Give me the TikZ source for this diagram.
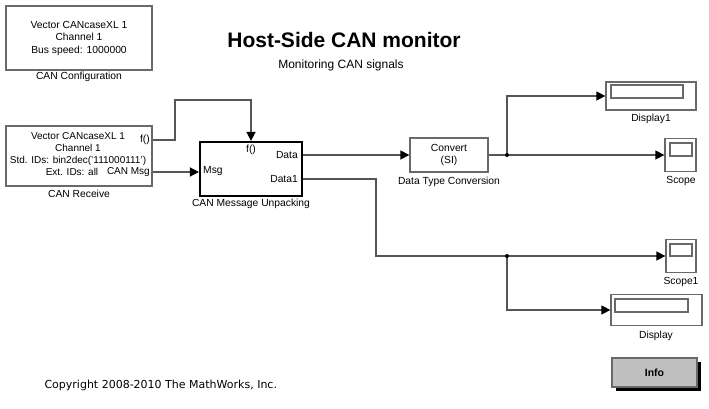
\documentclass[tikz,border=0pt]{standalone}
\usepackage{fontspec}
\setmainfont{Liberation Sans}
\newfontfamily\copyfont{DejaVu Sans}
\usepackage{xcolor}
\usepackage{tikz}
\usetikzlibrary{arrows.meta}
\usetikzlibrary{shadows}
\definecolor{wiregray}{RGB}{85,85,85}
\definecolor{bordergray}{RGB}{105,105,105}
\definecolor{infogray}{RGB}{192,192,192}
\begin{document}
\begin{tikzpicture}[
	x=1pt, y=-1pt,
	font=\fontsize{10.3}{12.5}\selectfont
]
\tikzset{
    blk/.style = {rectangle, draw=bordergray, line width=1.3pt, align=center, inner sep=0pt},
    inblk/.style = {rectangle, draw=bordergray, line width=1.3pt, inner sep=0pt},
    lbl/.style = {inner sep=0pt},
    wire/.style = {draw=wiregray, line width=1.5pt},
    arr/.style = {wire, -{Triangle[length=9pt,width=9pt,color=black,fill=black]}},
    dot/.style = {circle, fill=black, inner sep=0pt, minimum size=4pt}
}
\useasboundingbox (0,0) rectangle (709,408);
%
\node[font=\fontsize{21}{24}\bfseries\selectfont] (title) at (344,40) {Host-Side CAN monitor};
\node[font=\fontsize{12}{14}\selectfont] (subtitle) at (341,65) {Monitoring CAN signals};
%
\node[blk, minimum width=146pt, minimum height=64pt] (cfg) at (79,38) {Vector CANcaseXL 1\\Channel 1\\Bus speed: 1000000};
\node[lbl] (cfgl) at (79,77) {CAN Configuration};
\node[blk, minimum width=146pt, minimum height=60pt] (rcv) at (79,156) {};
\node[lbl, align=center, font=\fontsize{10}{12}\selectfont] (rcvtxt) at (78,154.5) {Vector CANcaseXL 1\\Channel 1\\Std. IDs: bin2dec('111000111')\\Ext. IDs: all\hspace*{12pt}};
\node[lbl] (rcvl) at (79,194) {CAN Receive};
\node[lbl, anchor=east] (rcvf) at (150,140) {f()};
\node[lbl, anchor=east, font=\fontsize{10}{12}\selectfont] (rcvmsg) at (150,172) {CAN Msg};
%
\node[blk, draw=black, line width=2.2pt, minimum width=102pt, minimum height=54pt] (unp) at (251,169) {};
\node[lbl] (unpl) at (251,204) {CAN Message Unpacking};
\node[lbl] (unpf) at (251,150) {f()};
\node[lbl, anchor=west] (unpmsg) at (203,171) {Msg};
\node[lbl, anchor=east] (unpdata) at (298,155) {Data};
\node[lbl, anchor=east] (unpdata1) at (298,179) {Data1};
%
\node[blk, minimum width=78pt, minimum height=34pt] (conv) at (449,155) {Convert\\(SI)};
\node[lbl] (convl) at (449,182) {Data Type Conversion};
%
\node[blk, minimum width=90pt, minimum height=28pt] (disp1) at (651,96) {};
\node[inblk, minimum width=72pt, minimum height=13pt] (disp1in) at (647,91.5) {};
\node[lbl] (disp1l) at (651,119) {Display1};
\node[blk, minimum width=31pt, minimum height=33pt] (scope) at (680.5,155) {};
\node[inblk, minimum width=22pt, minimum height=13pt] (scopein) at (681,149.5) {};
\node[lbl] (scopel) at (681,181) {Scope};
\node[blk, minimum width=30pt, minimum height=33pt] (scope1) at (681,256) {};
\node[inblk, minimum width=22pt, minimum height=12pt] (scope1in) at (681,250) {};
\node[lbl] (scope1l) at (681,282) {Scope1};
\node[blk, minimum width=91pt, minimum height=31pt] (disp) at (656.5,310) {};
\node[inblk, minimum width=73pt, minimum height=13pt] (dispin) at (651.5,305.5) {};
\node[lbl] (displ) at (656,336) {Display};
%
\node[blk, fill=infogray, minimum width=85pt, minimum height=29pt,
      font=\fontsize{10.5}{12}\bfseries\selectfont,
      drop shadow={shadow xshift=4pt, shadow yshift=-4pt, fill=black, opacity=1}] (info) at (654.5,372.5) {Info};
\node[anchor=west, font=\copyfont\fontsize{11}{13}\selectfont] (copy) at (41,385) {Copyright 2008-2010 The MathWorks, Inc.};
%
\coordinate (br1) at (507,155);
\coordinate (bend) at (376,256);
\coordinate (br2) at (507,256);
%
\draw[arr] (rcv.east |- rcvf) -| (175,100) -| (unp.north);
\draw[arr] (rcv.east |- rcvmsg) -- (unp.west |- rcvmsg);
\draw[arr] (unp.east |- unpdata) -- (conv.west);
\draw[wire] (conv.east) -- (br1);
\draw[arr] (br1) -- (br1 -| scope.west);
\draw[arr] (br1) |- (disp1.west);
\draw[wire] (unp.east |- unpdata1) -| (bend) -- (br2);
\draw[arr] (br2) -- (scope1.west);
\draw[arr] (br2) |- (disp.west);
\node[dot] at (br1) {};
\node[dot] at (br2) {};
\end{tikzpicture}
\end{document}
